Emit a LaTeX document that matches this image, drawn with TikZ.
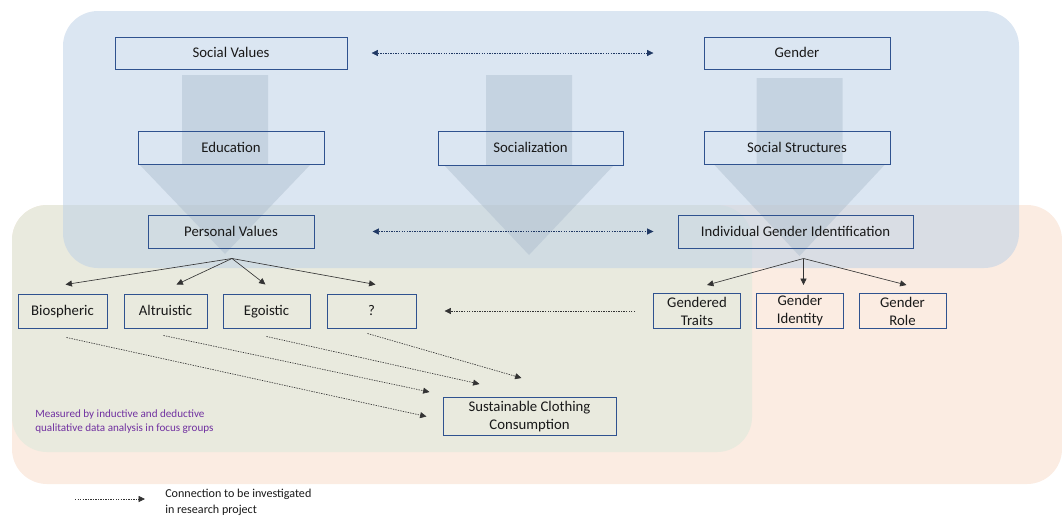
\documentclass[tikz,border=0pt]{standalone}
\usepackage{fontspec}
\setmainfont{Carlito}
\usepackage{tikz}
\usetikzlibrary{arrows.meta,calc,positioning}
\definecolor{navy}{RGB}{47,82,143}
\definecolor{darknavy}{RGB}{31,56,100}
\definecolor{panelblue}{RGB}{190,209,231}
\definecolor{panelgreen}{RGB}{233,234,222}
\definecolor{panelpeach}{RGB}{251,236,226}
\definecolor{bigarrow}{RGB}{176,192,208}
\definecolor{notepurple}{RGB}{112,48,160}
\tikzset{
  >={Triangle[length=1.6mm,width=1.5mm]},
  wh/.style 2 args={minimum width=#1*0.025cm,minimum height=#2*0.025cm},
  cbox/.style={draw=navy,line width=0.7pt,inner sep=1pt,text=black!90,
    font=\fontsize{10.5}{12.8}\selectfont,align=center},
  oneline/.style={text height=0.66em,text depth=0pt},
  panel/.style={rounded corners=0.875cm},
  flowarrow/.style={fill=bigarrow,fill opacity=0.5},
  branch/.style={->,line width=0.45pt,black!80},
  invest/.style={->,line width=0.45pt,black!80,dash pattern=on 1pt off 0.8pt},
  link/.style={<->,line width=0.45pt,darknavy,dash pattern=on 1pt off 0.8pt},
}

\begin{document}
\begin{tikzpicture}[x=0.025cm,y=-0.025cm]
  \useasboundingbox (0,0) rectangle (1062,515);
  % background panels
  \fill[panelpeach,panel] (12,205) rectangle (1062,484);
  \fill[panelgreen,panel] (12,205) rectangle (752,452);
  \fill[panelblue,panel,fill opacity=0.55] (63,11) rectangle (1019,268);
  % big block arrows
  \foreach \c/\t/\e in {225/75/254,529/75/255,799.5/78/256} {
    \fill[flowarrow] (\c-43,\t) -- (\c+43,\t) -- (\c+43,165) -- (\c+85,165)
      -- (\c,\e) -- (\c-85,165) -- (\c-43,165) -- cycle;
  }

  % boxes
  \node[cbox,oneline,wh={232}{32}] (socval) at (231,53) {Social Values};
  \node[cbox,oneline,wh={186}{32}] (gender) at (797,53) {Gender};
  \node[cbox,oneline,wh={186}{33}] (edu) at (231,147.5) {Education};
  \node[cbox,oneline,wh={185}{34}] (soc) at (530.5,148) {Socialization};
  \node[cbox,oneline,wh={186}{33}] (socstr) at (797,147.5) {Social Structures};
  \node[cbox,oneline,wh={166}{33}] (persval) at (231,231.5) {Personal Values};
  \node[cbox,oneline,wh={235}{33}] (igi) at (795.5,231.5) {Individual Gender Identification};
  \foreach \n/\x/\w/\t in {bio/62.5/89/Biospheric,alt/165.5/83/Altruistic,
      ego/266.5/87/Egoistic,q/371.5/89/?} {
    \node[cbox,oneline,wh={\w}{34}] (\n) at (\x,311) {\t};
  }
  \foreach \n/\x/\t in {gtr/697/{Gendered\\Traits},gid/800/{Gender\\Identity},
      grole/902.5/{Gender\\Role}} {
    \node[cbox,wh={87}{35}] (\n) at (\x,311) {\t};
  }
  \node[cbox,wh={173}{38}] (scc) at (529.5,416.5) {Sustainable Clothing\\Consumption};

  % branches
  \coordinate (pvfork) at ($(persval.south)+(1,10)$);
  \coordinate (igifork) at ($(igi.south)+(8,10)$);
  \foreach \n/\dx in {bio/3,alt/11,ego/-1,q/4} {
    \draw[branch] (pvfork) -- ($(\n.north)+(\dx,-9)$);
  }
  \foreach \n/\dx in {gtr/10,gid/3.5,grole/4} {
    \draw[branch] (igifork) -- ($(\n.north)+(\dx,-8)$);
  }

  % links to be investigated
  \draw[link] ($(socval.east)+(24,0)$) -- ($(gender.west)+(-50,0)$);
  \draw[link] ($(persval.east)+(58,0)$) -- ($(igi.west)+(-24,0)$);
  \draw[invest] ($(gtr.west)+(-18,0)$) -- ($(q.east)+(28,0)$);
  \draw[invest] ($(bio.south)+(4,9)$) -- ($(scc.west)+(-16,0)$);
  \draw[invest] ($(alt.south)+(-2,7)$) -- ($(scc.north west)+(-13,-5)$);
  \draw[invest] ($(ego.south)+(0,8)$) -- ($(scc.north west)+(37,-13)$);
  \draw[invest] ($(q.south)+(-4,5)$) -- ($(scc.north)+(-8,-19)$);

  % notes
  \node[anchor=west,align=left,inner sep=0,text=notepurple,
    font=\fontsize{7.9}{9.9}\selectfont] (note) at (35,422)
    {Measured by inductive and deductive\\qualitative data analysis in focus groups};
  \node[anchor=west,align=left,inner sep=0,text=black!90,
    font=\fontsize{8.6}{11.3}\selectfont] (legend) at (165,502)
    {Connection to be investigated\\in research project};
  \draw[invest] ($(legend.west)+(-90,-3)$) -- ($(legend.west)+(-20,-3)$);
\end{tikzpicture}
\end{document}
